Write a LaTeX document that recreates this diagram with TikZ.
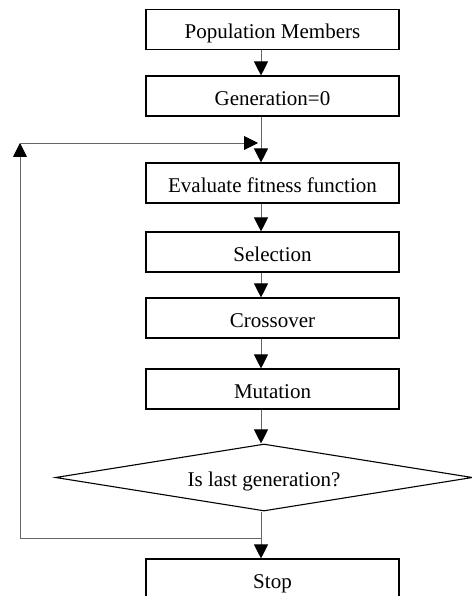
\documentclass[tikz,border=0pt]{standalone}
\usepackage{fontspec}
\setmainfont{Liberation Serif}
\usetikzlibrary{arrows.meta,shapes.geometric}
\begin{document}
\begin{tikzpicture}[x=1pt,y=-1pt,
  stepbox/.style={draw=black,line width=1.1pt,minimum width=253pt,minimum height=40pt,inner sep=0pt,
    text height=19pt,text depth=0pt,font=\fontsize{21}{25}\selectfont},
  decbox/.style={draw=black,line width=1.1pt,shape=diamond,aspect=6.2,minimum width=417pt,minimum height=67pt,inner sep=0pt,
    text height=17pt,text depth=0pt,font=\fontsize{21}{25}\selectfont},
  conn/.style={draw=black!60,line width=0.9pt,-{Triangle[width=14pt,length=14pt,color=black,fill=black]}}]
\useasboundingbox (0,0) rectangle (471,596);
\node[stepbox] (pop) at (272.5,29.5) {Population Members};
\node[stepbox] (gen) at (272.5,96) {Generation=0};
\node[stepbox] (eval) at (272.5,183) {Evaluate fitness function};
\node[stepbox] (sel) at (272.5,252) {Selection};
\node[stepbox] (cross) at (272.5,318) {Crossover};
\node[stepbox] (mut) at (272.5,389) {Mutation};
\node[decbox] (dec) at (264,477.5) {Is last generation?};
\node[stepbox,minimum height=46pt,text height=13pt] (stop) at (272.5,582) {Stop};
\coordinate (ax) at (261,0);
\coordinate (lb) at (261,538);
\coordinate (ll) at (20,538);
\coordinate (lt) at (20,143);
\coordinate (lr) at (258,143);
\draw[conn] (pop.south -| ax) -- (gen.north -| ax);
\draw[conn] (gen.south -| ax) -- (eval.north -| ax);
\draw[conn] (eval.south -| ax) -- (sel.north -| ax);
\draw[conn] (sel.south -| ax) -- (cross.north -| ax);
\draw[conn] (cross.south -| ax) -- (mut.north -| ax);
\draw[conn] (mut.south -| ax) -- (ax |- dec.north);
\draw[conn] (ax |- dec.south) -- (stop.north -| ax);
\draw[conn] (lb) -- (ll) -- (lt);
\draw[conn] (lt) -- (lr);
\end{tikzpicture}
\end{document}
